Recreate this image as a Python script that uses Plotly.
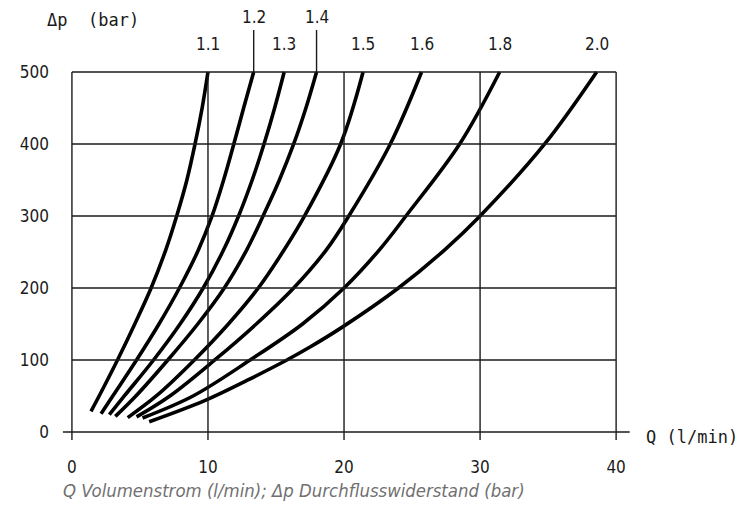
import plotly.graph_objects as go

# Curve data: flow Q (l/min) vs pressure drop dp (bar)
labels = ["1.1", "1.2", "1.3", "1.4", "1.5", "1.6", "1.8", "2.0"]

q_11 = [1.40, 2.0, 3.35, 4.62, 5.82, 6.90, 7.70, 8.45, 9.05, 9.57, 10.0]
dp_11 = [28.7, 50, 100, 150, 200, 253, 300, 350, 400, 450, 500]

q_12 = [2.14, 3.0, 4.75, 6.4, 7.9, 9.3, 10.3, 11.15, 11.9, 12.62, 13.36]
dp_12 = [25.4, 50, 100, 150, 200, 253, 300, 350, 400, 450, 500]

q_13 = [2.75, 3.85, 6.0, 7.95, 9.65, 11.15, 12.25, 13.25, 14.12, 14.9, 15.6]
dp_13 = [24, 50, 100, 150, 200, 253, 300, 350, 400, 450, 500]

q_14 = [3.19, 4.7, 7.05, 9.25, 11.2, 12.85, 14.05, 15.25, 16.3, 17.2, 17.98]
dp_14 = [21.7, 50, 100, 150, 200, 253, 300, 350, 400, 450, 500]

q_15 = [4.10, 6.2, 9.0, 11.5, 13.7, 15.6, 17.1, 19.75, 21.4]
dp_15 = [20, 50, 100, 150, 200, 253, 300, 400, 500]

q_16 = [4.75, 7.2, 10.5, 13.55, 16.3, 18.7, 20.35, 23.4, 25.7]
dp_16 = [21, 50, 100, 150, 200, 253, 300, 400, 500]

q_18 = [5.19, 8.9, 13.1, 16.95, 20.0, 22.6, 24.55, 28.5, 31.44]
dp_18 = [19.5, 50, 100, 150, 200, 253, 300, 400, 500]

q_20 = [5.68, 9.8, 12.9, 15.8, 17.5, 19.9, 24.0, 27.4, 30.0, 34.75, 38.57]
dp_20 = [14.3, 44, 72, 100, 118, 146, 200, 253, 300, 400, 500]

x_ticks = [0, 10, 20, 30, 40]
x_tick_labels = ["0", "10", "20", "30", "40"]
y_ticks = [0, 100, 200, 300, 400, 500]
y_tick_labels = ["0", "100", "200", "300", "400", "500"]
raised_labels = ["1.2", "1.4"]

q_series = [q_11, q_12, q_13, q_14, q_15, q_16, q_18, q_20]
dp_series = [dp_11, dp_12, dp_13, dp_14, dp_15, dp_16, dp_18, dp_20]

FONT = "DejaVu Sans Condensed, Liberation Sans Narrow, Liberation Sans, sans-serif"
MONO = "DejaVu Sans Mono, Liberation Mono, monospace"
TXT = "#1a1a1a"

fig = go.Figure()
for lab, qs, ds in zip(labels, q_series, dp_series):
    fig.add_trace(go.Scatter(x=qs, y=ds, mode="lines", name=lab,
                             line=dict(color="black", width=3.6, shape="spline", smoothing=1.0),
                             showlegend=False, hoverinfo="skip"))

xmin, xmax = x_ticks[0], x_ticks[-1]
ymin, ymax = y_ticks[0], y_ticks[-1]
shapes = []
grid = dict(color="#1a1a1a", width=1.4)
for yv in y_ticks:
    x0 = -0.66 if yv == ymin else xmin
    x1 = 41.0 if yv == ymin else xmax
    shapes.append(dict(type="line", xref="x", yref="y", x0=x0, x1=x1, y0=yv, y1=yv, line=grid))
for xv in x_ticks:
    shapes.append(dict(type="line", xref="x", yref="y", x0=xv, x1=xv, y0=-11, y1=ymax, line=grid))

annotations = []
for lab, qs, ds in zip(labels, q_series, dp_series):
    raised = lab in raised_labels
    ylab = 1.129 if raised else 1.058
    annotations.append(dict(x=qs[-1], y=ylab, xref="x", yref="paper", text=lab, showarrow=False,
                            font=dict(family=FONT, size=17, color=TXT), xanchor="center", yanchor="middle"))
    if raised:
        shapes.append(dict(type="line", xref="x", yref="paper", x0=qs[-1], x1=qs[-1], y0=0.984, y1=1.095,
                           line=dict(color="#1a1a1a", width=1.4)))

annotations.append(dict(x=-0.0226, y=1.121, xref="paper", yref="paper", text="Δp  (bar)", showarrow=False,
                        font=dict(family=MONO, size=17, color=TXT), xanchor="left", yanchor="middle"))
annotations.append(dict(x=1.024, y=-7, xref="paper", yref="y", text="Q (l/min)", showarrow=False,
                        font=dict(family=MONO, size=17, color=TXT), xanchor="left", yanchor="middle"))
annotations.append(dict(x=0.005, y=-0.119, xref="paper", yref="paper",
                        text="<i>Q Volumenstrom (l/min); Δp Durchflusswiderstand (bar)</i>",
                        showarrow=False, font=dict(family=FONT, size=18.4, color="#707070"),
                        xanchor="left", yanchor="middle"))

fig.update_layout(
    width=738, height=503,
    margin=dict(l=47, r=116, t=58, b=66),
    paper_bgcolor="white", plot_bgcolor="white",
    shapes=shapes, annotations=annotations,
    xaxis=dict(range=[-1.024, 41.02], showgrid=False, zeroline=False, showline=False,
               tickvals=x_ticks, ticktext=x_tick_labels, ticks="", ticklabelstandoff=10,
               tickfont=dict(family=FONT, size=17, color=TXT)),
    yaxis=dict(range=[-18.06, 508.3], showgrid=False, zeroline=False, showline=False,
               tickvals=y_ticks, ticktext=y_tick_labels, ticks="", ticklabelstandoff=8,
               tickfont=dict(family=FONT, size=17, color=TXT)),
)

fig.write_html("out.html")
